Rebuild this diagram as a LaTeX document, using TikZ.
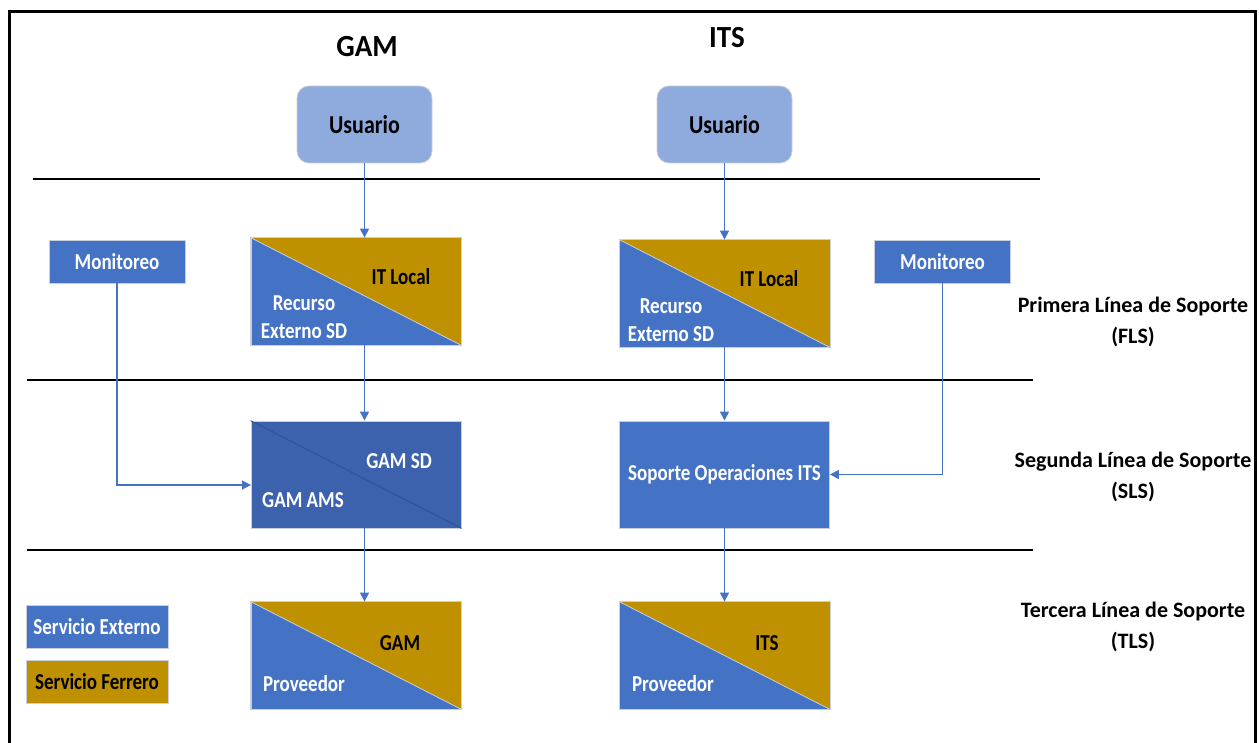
\documentclass[tikz,border=0pt]{standalone}
\usepackage{fontspec}
\setmainfont{Carlito}
\usetikzlibrary{arrows.meta}
\definecolor{ext}{HTML}{4472C4}
\definecolor{fer}{HTML}{BF9000}
\definecolor{usr}{HTML}{8FAADC}
\definecolor{ams}{HTML}{3D62AD}
\definecolor{amsline}{HTML}{2F4F8F}
\definecolor{edge}{HTML}{C9CFDA}
\newcommand{\txt}{\fontsize{19}{23}\selectfont\bfseries}
\tikzset{
  box/.style={draw=edge, line width=0.8pt, fill=ext, inner sep=0pt,
    minimum width=210pt, minimum height=107pt},
  smallbox/.style={draw=edge, line width=0.8pt, fill=ext, inner sep=0pt,
    minimum width=136pt, minimum height=43pt},
  userbox/.style={draw=edge, line width=0.8pt, fill=usr, rounded corners=12pt,
    minimum width=135pt, minimum height=77pt},
  utxt/.style={font=\fontsize{22}{26}\selectfont\bfseries, inner sep=0pt, yscale=1.17},
  wtxt/.style={text=white, font=\txt, align=center, inner sep=0pt, yscale=1.2},
  btxt/.style={text=black, font=\txt, align=center, inner sep=0pt, yscale=1.2},
  title/.style={font=\fontsize{29}{33}\selectfont\bfseries, inner sep=0pt, yscale=1.06},
  level/.style={font=\fontsize{22}{31}\selectfont\bfseries, align=center, inner sep=0pt},
  conn/.style={draw=ext, line width=1.3pt, -{Triangle[length=9pt,width=9pt]}},
  sep/.style={draw=black, line width=1.6pt},
}
\begin{document}
\begin{tikzpicture}[x=1pt,y=-1pt]
\useasboundingbox (0,0) rectangle (1259,743);
% outer frame (open at the bottom)
\draw[line width=3pt] (9,745) -- (9,12) -- (1255,12) -- (1255,745);

% column headings
\node[title] (hG) at (367,47) {GAM};
\node[title] (hI) at (727,38) {ITS};

% level separators
\draw[sep] (33,179) -- (1040,179);
\draw[sep] (27,380) -- (1033,380);
\draw[sep] (27,550) -- (1033,550);

% users
\node[userbox] (usrG) at (364.5,124.5) {};
\node[utxt] (usrGt) at (usrG.center) {Usuario};
\node[userbox] (usrI) at (724.5,124.5) {};
\node[utxt] (usrIt) at (usrI.center) {Usuario};

% monitoring
\node[smallbox] (monG) at (117,261.5) {};
\node[wtxt] (monGt) at (monG.center) {Monitoreo};
\node[smallbox] (monI) at (942.5,261.5) {};
\node[wtxt] (monIt) at (monI.center) {Monitoreo};

% first line boxes (split diagonally)
\node[box] (itG) at (356,291.5) {};
\fill[fer] (itG.north west) -- (itG.north east) -- (itG.south east) -- cycle;
\draw[edge, line width=0.8pt] (itG.north west) -- (itG.south east);
\draw[edge, line width=0.8pt] (itG.north west) rectangle (itG.south east);
\node[btxt] (itGa) at (401,277) {IT Local};
\node[wtxt] (itGb) at (304,317) {Recurso\\Externo SD};

\node[box] (itI) at (724.5,293.5) {};
\fill[fer] (itI.north west) -- (itI.north east) -- (itI.south east) -- cycle;
\draw[edge, line width=0.8pt] (itI.north west) -- (itI.south east);
\draw[edge, line width=0.8pt] (itI.north west) rectangle (itI.south east);
\node[btxt] (itIa) at (769,279) {IT Local};
\node[wtxt] (itIb) at (671,320) {Recurso\\Externo SD};

% second line
\node[box, fill=ams] (sdG) at (356,474.5) {};
\draw[amsline, line width=0.8pt] (sdG.north west) -- (sdG.south east);
\node[wtxt] (sdGa) at (399,461) {GAM SD};
\node[wtxt] (sdGb) at (303,500) {GAM AMS};

\node[box] (sdI) at (724.5,474.5) {};
\node[wtxt] (sdIa) at (sdI.center) {Soporte Operaciones ITS};

% third line
\node[box] (prG) at (356,655.5) {};
\fill[fer] (prG.north west) -- (prG.north east) -- (prG.south east) -- cycle;
\draw[edge, line width=0.8pt] (prG.north west) -- (prG.south east);
\draw[edge, line width=0.8pt] (prG.north west) rectangle (prG.south east);
\node[btxt] (prGa) at (400,643) {GAM};
\node[wtxt] (prGb) at (304,684) {Proveedor};

\node[box] (prI) at (724.5,655.5) {};
\fill[fer] (prI.north west) -- (prI.north east) -- (prI.south east) -- cycle;
\draw[edge, line width=0.8pt] (prI.north west) -- (prI.south east);
\draw[edge, line width=0.8pt] (prI.north west) rectangle (prI.south east);
\node[btxt] (prIa) at (767,643) {ITS};
\node[wtxt] (prIb) at (673,684) {Proveedor};

% legend
\node[smallbox, minimum width=142pt] (lgE) at (97,626.5) {};
\node[wtxt] (lgEt) at (lgE.center) {Servicio Externo};
\node[smallbox, minimum width=142pt, fill=fer] (lgF) at (97,682) {};
\node[btxt] (lgFt) at (lgF.center) {Servicio Ferrero};

% support level labels
\node[level] (lv1) at (1133,322) {Primera Línea de Soporte\\(FLS)};
\node[level] (lv2) at (1133,477) {Segunda Línea de Soporte\\(SLS)};
\node[level] (lv3) at (1133,627) {Tercera Línea de Soporte\\(TLS)};

% connectors
\coordinate (colG) at (364.5,0);
\draw[conn] (usrG.south) -- (colG |- itG.north);
\draw[conn] (colG |- itG.south) -- (colG |- sdG.north);
\draw[conn] (colG |- sdG.south) -- (colG |- prG.north);
\draw[conn] (usrI.south) -- (itI.north);
\draw[conn] (itI.south) -- (sdI.north);
\draw[conn] (sdI.south) -- (prI.north);
\coordinate (inG) at (251,485);
\draw[conn] (monG.south) |- (inG);
\draw[conn] (monI.south) |- (sdI.east);
\end{tikzpicture}
\end{document}
